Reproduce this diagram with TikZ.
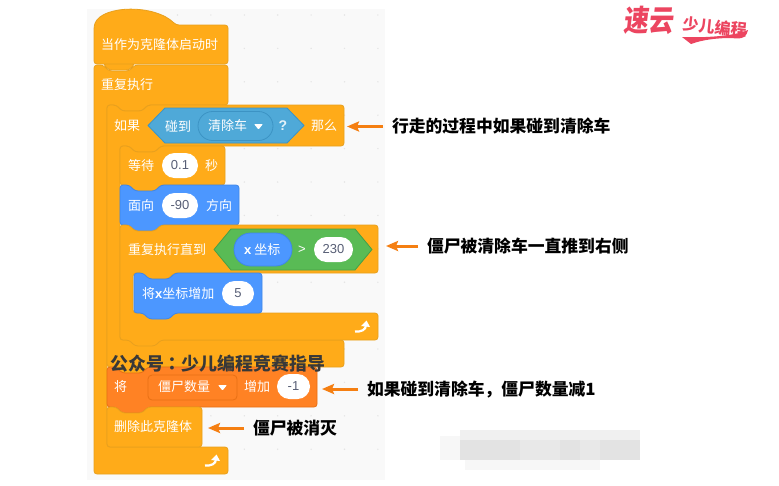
\documentclass[tikz,border=0pt]{standalone}
\usepackage{fontspec}
\setmainfont{Noto Sans CJK SC}
\newfontfamily\pillfont{Liberation Sans}
\newfontfamily\tcfont{Noto Sans CJK TC}
\usetikzlibrary{positioning,arrows.meta,shapes.misc}
\definecolor{ctrlorange}{HTML}{FFAB19}
\definecolor{ctrledge}{HTML}{E8A01E}
\definecolor{varorange}{HTML}{FF8224}
\definecolor{varedge}{HTML}{E87014}
\definecolor{motionblue}{HTML}{4C97FF}
\definecolor{motionedge}{HTML}{3F86E8}
\definecolor{senseblue}{HTML}{4FA9D8}
\definecolor{senseedge}{HTML}{3C93C4}
\definecolor{opgreen}{HTML}{59BB55}
\definecolor{opedge}{HTML}{469F46}
\definecolor{notearrow}{HTML}{F57F12}
\definecolor{pilltext}{HTML}{575E75}
\definecolor{logored}{HTML}{EC4560}
\def\tabdrop{6}
\newcommand\stackblock[5]{
	\draw [#5,rounded corners=3pt] (#1,#2) -- (#1+9,#2) -- (#1+15,#2+6) -- (#1+35,#2+6) -- (#1+41,#2) -- (#3,#2) -- (#3,#4) -- (#1+41,#4) -- (#1+35,#4+\tabdrop) -- (#1+15,#4+\tabdrop) -- (#1+9,#4) -- (#1,#4) -- cycle;
}
\newcommand\cblock[8]{
	\draw [#8,rounded corners=3pt] (#1,#2) -- (#1+9,#2) -- (#1+15,#2+6) -- (#1+35,#2+6) -- (#1+41,#2) -- (#3,#2) -- (#3,#4) -- (#1+54,#4) -- (#1+48,#4+6) -- (#1+28,#4+6) -- (#1+22,#4) -- (#1+13,#4) -- (#1+13,#6) -- (#5,#6) -- (#5,#7) -- (#1+41,#7) -- (#1+35,#7+\tabdrop) -- (#1+15,#7+\tabdrop) -- (#1+9,#7) -- (#1,#7) -- cycle;
}
\newcommand\hexblock[5]{
	\draw [#5,line join=round] (#1,#3) -- (#1+17,#3-#4) -- (#2-17,#3-#4) -- (#2,#3) -- (#2-17,#3+#4) -- (#1+17,#3+#4) -- cycle;
}
\tikzset{
	ctrl/.style={fill=ctrlorange,draw=ctrledge,line width=.8pt},
	vars/.style={fill=varorange,draw=varedge,line width=.8pt},
	motion/.style={fill=motionblue,draw=motionedge,line width=.8pt},
	sense/.style={fill=senseblue,draw=senseedge,line width=.8pt},
	oper/.style={fill=opgreen,draw=opedge,line width=.8pt},
	blocktext/.style={anchor=west,inner sep=0pt,text=white,font=\fontsize{13}{15}\selectfont},
	pill/.style={rounded rectangle,fill=white,inner sep=0pt,text=pilltext,minimum height=25pt,font=\pillfont\fontsize{13}{15}\selectfont},
	notetext/.style={anchor=west,inner sep=0pt,outer sep=9pt,text=black,font=\fontsize{16.8}{19}\selectfont\bfseries},
	orangearrow/.style={-{Stealth[length=12pt,width=10pt,inset=2pt]},notearrow,line width=3pt},
	dropmark/.style={fill=white,rounded corners=.8pt},
	looparrow/.pic={
		\draw [white,line width=2.2pt] (-8,4.5) .. controls (-2,5) and (3,3) .. (3,-2);
		\fill [white] (-2,-1) -- (3.5,-6.5) -- (7,0) -- cycle;
	}
}
\begin{document}
\begin{tikzpicture}[x=1pt,y=-1pt]
	\useasboundingbox (0,0) rectangle (779,485);
	\fill [white] (0,0) rectangle (779,485);
	\fill [black!2.5] (87,9) rectangle (385,480);
	\foreach \x in {110.7,144.1,...,380}
	\foreach \y in {15,48.4,...,460}
	{
		\fill [black!10] (\x,\y) circle (.8pt);
	}
	% when I start as a clone
	\draw [ctrl,rounded corners=3pt] (94,64) -- (94,26) .. controls (102,5) and (155,4) .. (176,25) -- (228,25) -- (228,64) -- (103,64) -- (109,70) -- (129,70) -- (135,64) -- cycle;
	\node (startlabel) at (101,45) [blocktext] {当作为克隆体启动时};
	{\def\tabdrop{0}
	\cblock{94}{65}{228}{105}{228}{447}{474}{ctrl}}
	\node (foreverlabel) at (101,85) [blocktext] {重复执行};
	\pic (foreverloop) at (213,461) {looparrow};
	% touching test
	\cblock{107}{105}{344}{146}{344}{340}{367}{ctrl}
	\node (iflabel) at (114,126) [blocktext] {如果};
	\hexblock{148}{304}{125.5}{17.5}{sense}
	\node (touchlabel) at (165,126) [blocktext] {碰到};
	\node (touchmenu) at (235.5,126) [rounded rectangle,fill=senseblue,draw=senseedge,line width=.8pt,minimum width=75pt,minimum height=29pt,inner sep=0pt] {};
	\node (sprite) at (208,126) [blocktext] {清除车};
	\fill [dropmark] (254,124) -- (263,124) -- (258.5,129.5) -- cycle;
	\node (question) at (283,126) [text=white!85!senseblue,inner sep=0pt,font=\pillfont\fontsize{14}{16}\selectfont\bfseries] {?};
	\node (thenlabel) at (311,126) [blocktext] {那么};
	% wait
	\stackblock{120}{146}{225}{185}{ctrl}
	\node (waitlabel) at (128,165.5) [blocktext] {等待};
	\node (waitvalue) at (180,165.5) [pill,minimum width=36pt] {0.1};
	\node (secondlabel) at (205,165.5) [blocktext] {秒};
	% point in direction
	\stackblock{120}{185}{239}{225}{motion}
	\node (facelabel) at (128,206) [blocktext] {面向};
	\node (facevalue) at (180,205.5) [pill,minimum width=36pt] {-90};
	\node (directlabel) at (206,206) [blocktext] {方向};
	% repeat until
	\cblock{120}{225}{378}{273}{378}{313}{340}{ctrl}
	\node (untillabel) at (128,249.5) [blocktext] {重复执行直到};
	\hexblock{214}{372}{249.5}{20.5}{oper}
	\node (xreporter) at (263,249.5) [rounded rectangle,fill=motionblue,draw=motionedge,line width=.8pt,minimum width=58pt,minimum height=33pt,inner sep=0pt] {};
	\node (xlabel) at (244,249.5) [blocktext] {{\pillfont\bfseries x} 坐标};
	\node (greater) at (302,249.5) [text=white,inner sep=0pt,font=\pillfont\fontsize{13}{15}\selectfont] {>};
	\node (limitvalue) at (333.5,249.5) [pill,minimum width=39pt] {230};
	\stackblock{134}{273}{262}{313}{motion}
	\node (changexlabel) at (142,293.5) [blocktext] {将{\pillfont\bfseries x}坐标增加};
	\node (changexvalue) at (238,293.5) [pill,minimum width=32pt] {5};
	% change variable
	\stackblock{107}{367}{317}{407}{vars}
	\node (setlabel) at (114,387) [blocktext] {将};
	\node (varmenu) at (192.5,387.5) [rectangle,rounded corners=4pt,draw=varedge,line width=.8pt,minimum width=89pt,minimum height=25pt,inner sep=0pt] {};
	\node (varlabel) at (158,387) [blocktext] {僵尸数量};
	\fill [dropmark] (218,385) -- (227,385) -- (222.5,390.5) -- cycle;
	\node (addlabel) at (244,387) [blocktext] {增加};
	\node (addvalue) at (293.5,386.5) [pill,minimum width=33pt] {-1};
	% delete clone
	{\def\tabdrop{0}
	\stackblock{107}{407}{202}{447}{ctrl}}
	\node (deletelabel) at (114,427) [blocktext] {删除此克隆体};
	\pic (untilloop) at (363,327) {looparrow};
	\node (account) at (110,364) [anchor=west,inner sep=0pt,text=black!78,font=\fontsize{17.9}{20}\selectfont\bfseries] {公众号{\tcfont ：}少儿编程竞赛指导};
	% notes
	\coordinate (tiptouch) at (347,126.5);
	\coordinate (tippush) at (386,246);
	\coordinate (tipcount) at (322,389);
	\coordinate (tipgone) at (208,428);
	\node (notetouch) [notetext,right=36pt of tiptouch] {行走的过程中如果碰到清除车};
	\node (notepush) [notetext,right=32pt of tippush] {僵尸被清除车一直推到右侧};
	\node (notecount) [notetext,right=36pt of tipcount] {如果碰到清除车，僵尸数量减1};
	\node (notegone) [notetext,right=36pt of tipgone] {僵尸被消灭};
	\draw [orangearrow] (notetouch) -- (tiptouch);
	\draw [orangearrow] (notepush) -- (tippush);
	\draw [orangearrow] (notecount) -- (tipcount);
	\draw [orangearrow] (notegone) -- (tipgone);
	% blurred patch
	\fill [black!3] (440,436) rectangle (640,460);
	\fill [black!6] (460,430) rectangle (640,460);
	\fill [black!11] (460,440) rectangle (520,460);
	\fill [black!9] (520,440) rectangle (640,460);
	\fill [black!11] (560,440) rectangle (580,460);
	\fill [black!11] (600,440) rectangle (640,460);
	\fill [black!3] (465,460) rectangle (600,470);
	% logo
	\node (logobig) at (650,20) [inner sep=0pt,text=logored,xslant=.12,xscale=.92,yscale=1.1,transform shape,font=\fontsize{27}{30}\selectfont\bfseries] {速云};
	\node (logosmall) at (715,27) [inner sep=0pt,text=logored,rotate=-6,font=\fontsize{16}{18}\selectfont\bfseries] {少儿编程};
	\fill [logored] (682,37) .. controls (705,38) and (735,36) .. (748,30) .. controls (747,36) and (743,40) .. (732,38) .. controls (715,38) and (702,40) .. (691,44) -- cycle;
\end{tikzpicture}
\end{document}
